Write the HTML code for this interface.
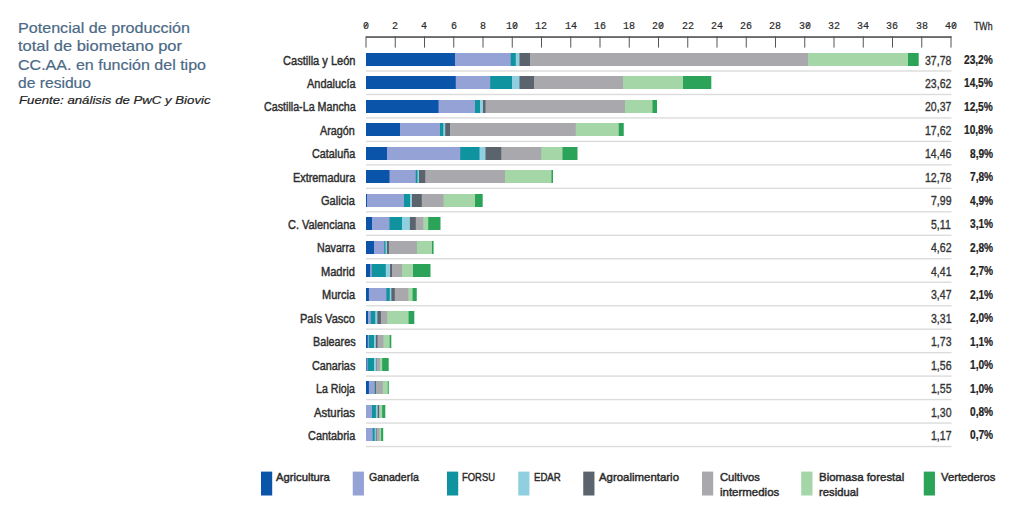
<!DOCTYPE html>
<html><head><meta charset="utf-8"><style>
html,body{margin:0;padding:0;background:#fff;}
body{width:1024px;height:508px;position:relative;overflow:hidden;font-family:"Liberation Sans",sans-serif;}
.a{position:absolute;}
.t{position:absolute;white-space:nowrap;line-height:1;transform-origin:0 0;}
.seg{position:absolute;height:13px;}
.sep{position:absolute;height:1px;background:#dedede;left:366px;width:585px;}
.tick{position:absolute;width:1px;height:11px;background:#444;top:37px;}
.sw{position:absolute;width:11px;height:24px;top:471.5px;}
</style></head><body>
<div class="t" style="left:18.3px;top:20px;font-size:15px;font-family:'Liberation Sans',sans-serif;color:#4b6986;transform:scaleX(1.0743);-webkit-text-stroke:0.2px #4b6986;">Potencial de producción</div><div class="t" style="left:18.3px;top:38.45px;font-size:15px;font-family:'Liberation Sans',sans-serif;color:#4b6986;transform:scaleX(1.0987);-webkit-text-stroke:0.2px #4b6986;">total de biometano por</div><div class="t" style="left:18.3px;top:56.85px;font-size:15px;font-family:'Liberation Sans',sans-serif;color:#4b6986;transform:scaleX(1.0686);-webkit-text-stroke:0.2px #4b6986;">CC.AA. en función del tipo</div><div class="t" style="left:18.3px;top:74.55px;font-size:15px;font-family:'Liberation Sans',sans-serif;color:#4b6986;transform:scaleX(1.0421);-webkit-text-stroke:0.2px #4b6986;">de residuo</div><div class="t" style="left:18.5px;top:95.42px;font-size:11.5px;font-family:'Liberation Sans',sans-serif;color:#222;font-style:italic;transform:scaleX(1.1480);-webkit-text-stroke:0.2px #222;">Fuente: análisis de PwC y Biovic</div><svg class="a" style="left:0;top:0" width="1024" height="508" viewBox="0 0 1024 508"><rect x="366" y="36.3" width="585.5" height="1.5" fill="#444"/><rect x="365.5" y="36.3" width="1" height="11.3" fill="#555"/><rect x="394.75" y="36.3" width="1" height="11.3" fill="#555"/><rect x="424" y="36.3" width="1" height="11.3" fill="#555"/><rect x="453.25" y="36.3" width="1" height="11.3" fill="#555"/><rect x="482.5" y="36.3" width="1" height="11.3" fill="#555"/><rect x="511.75" y="36.3" width="1" height="11.3" fill="#555"/><rect x="541" y="36.3" width="1" height="11.3" fill="#555"/><rect x="570.25" y="36.3" width="1" height="11.3" fill="#555"/><rect x="599.5" y="36.3" width="1" height="11.3" fill="#555"/><rect x="628.75" y="36.3" width="1" height="11.3" fill="#555"/><rect x="658" y="36.3" width="1" height="11.3" fill="#555"/><rect x="687.25" y="36.3" width="1" height="11.3" fill="#555"/><rect x="716.5" y="36.3" width="1" height="11.3" fill="#555"/><rect x="745.75" y="36.3" width="1" height="11.3" fill="#555"/><rect x="775" y="36.3" width="1" height="11.3" fill="#555"/><rect x="804.25" y="36.3" width="1" height="11.3" fill="#555"/><rect x="833.5" y="36.3" width="1" height="11.3" fill="#555"/><rect x="862.75" y="36.3" width="1" height="11.3" fill="#555"/><rect x="892" y="36.3" width="1" height="11.3" fill="#555"/><rect x="921.25" y="36.3" width="1" height="11.3" fill="#555"/><rect x="950.5" y="36.3" width="1" height="11.3" fill="#555"/><rect x="366" y="53" width="90" height="13" fill="#0a55aa"/><rect x="455" y="53" width="56.75" height="13" fill="#94a2d6"/><rect x="510.75" y="53" width="6" height="13" fill="#0f939e"/><rect x="515.75" y="53" width="4.75" height="13" fill="#90cfe0"/><rect x="519.5" y="53" width="11.5" height="13" fill="#5b636c"/><rect x="530" y="53" width="279" height="13" fill="#a9a9ad"/><rect x="808" y="53" width="101" height="13" fill="#a5d6a7"/><rect x="908" y="53" width="10.7" height="13" fill="#2ba45a"/><rect x="366" y="70.3" width="585.5" height="1.4" fill="#dcdcdc"/><rect x="366" y="76" width="90.75" height="13" fill="#0a55aa"/><rect x="455.75" y="76" width="35.5" height="13" fill="#94a2d6"/><rect x="490.25" y="76" width="22.75" height="13" fill="#0f939e"/><rect x="512" y="76" width="8.5" height="13" fill="#90cfe0"/><rect x="519.5" y="76" width="15.5" height="13" fill="#5b636c"/><rect x="534" y="76" width="90" height="13" fill="#a9a9ad"/><rect x="623" y="76" width="61" height="13" fill="#a5d6a7"/><rect x="683" y="76" width="28.3" height="13" fill="#2ba45a"/><rect x="366" y="93.77" width="585.5" height="1.4" fill="#dcdcdc"/><rect x="366" y="100" width="73.5" height="13" fill="#0a55aa"/><rect x="438.5" y="100" width="37.5" height="13" fill="#94a2d6"/><rect x="475" y="100" width="6" height="13" fill="#0f939e"/><rect x="480" y="100" width="4" height="13" fill="#90cfe0"/><rect x="483" y="100" width="3.5" height="13" fill="#5b636c"/><rect x="485.5" y="100" width="140.5" height="13" fill="#a9a9ad"/><rect x="625" y="100" width="28.5" height="13" fill="#a5d6a7"/><rect x="652.5" y="100" width="4.5" height="13" fill="#2ba45a"/><rect x="366" y="117.24" width="585.5" height="1.4" fill="#dcdcdc"/><rect x="366" y="123" width="35" height="13" fill="#0a55aa"/><rect x="400" y="123" width="41" height="13" fill="#94a2d6"/><rect x="440" y="123" width="4.25" height="13" fill="#0f939e"/><rect x="443.25" y="123" width="3" height="13" fill="#90cfe0"/><rect x="445.25" y="123" width="5.75" height="13" fill="#5b636c"/><rect x="450" y="123" width="126.75" height="13" fill="#a9a9ad"/><rect x="575.75" y="123" width="44" height="13" fill="#a5d6a7"/><rect x="618.75" y="123" width="5" height="13" fill="#2ba45a"/><rect x="366" y="140.71" width="585.5" height="1.4" fill="#dcdcdc"/><rect x="366" y="147" width="22" height="13" fill="#0a55aa"/><rect x="387" y="147" width="74.25" height="13" fill="#94a2d6"/><rect x="460.25" y="147" width="20.25" height="13" fill="#0f939e"/><rect x="479.5" y="147" width="7" height="13" fill="#90cfe0"/><rect x="485.5" y="147" width="16.75" height="13" fill="#5b636c"/><rect x="501.25" y="147" width="41" height="13" fill="#a9a9ad"/><rect x="541.25" y="147" width="22.25" height="13" fill="#a5d6a7"/><rect x="562.5" y="147" width="15" height="13" fill="#2ba45a"/><rect x="366" y="164.18" width="585.5" height="1.4" fill="#dcdcdc"/><rect x="366" y="170" width="24.5" height="13" fill="#0a55aa"/><rect x="389.5" y="170" width="27.25" height="13" fill="#94a2d6"/><rect x="415.75" y="170" width="2.75" height="13" fill="#0f939e"/><rect x="417.5" y="170" width="2.5" height="13" fill="#90cfe0"/><rect x="419" y="170" width="7.25" height="13" fill="#5b636c"/><rect x="425.25" y="170" width="80.75" height="13" fill="#a9a9ad"/><rect x="505" y="170" width="47.5" height="13" fill="#a5d6a7"/><rect x="551.5" y="170" width="1.5" height="13" fill="#2ba45a"/><rect x="366" y="187.65" width="585.5" height="1.4" fill="#dcdcdc"/><rect x="366" y="194" width="2" height="13" fill="#0a55aa"/><rect x="367" y="194" width="38" height="13" fill="#94a2d6"/><rect x="404" y="194" width="7" height="13" fill="#0f939e"/><rect x="410" y="194" width="3" height="13" fill="#90cfe0"/><rect x="412" y="194" width="10.75" height="13" fill="#5b636c"/><rect x="421.75" y="194" width="22.75" height="13" fill="#a9a9ad"/><rect x="443.5" y="194" width="32.5" height="13" fill="#a5d6a7"/><rect x="475" y="194" width="7.7" height="13" fill="#2ba45a"/><rect x="366" y="211.12" width="585.5" height="1.4" fill="#dcdcdc"/><rect x="366" y="217" width="7" height="13" fill="#0a55aa"/><rect x="372" y="217" width="18.5" height="13" fill="#94a2d6"/><rect x="389.5" y="217" width="13.5" height="13" fill="#0f939e"/><rect x="402" y="217" width="8.9" height="13" fill="#90cfe0"/><rect x="409.9" y="217" width="6.85" height="13" fill="#5b636c"/><rect x="415.75" y="217" width="8.5" height="13" fill="#a9a9ad"/><rect x="423.25" y="217" width="6" height="13" fill="#a5d6a7"/><rect x="428.25" y="217" width="12.25" height="13" fill="#2ba45a"/><rect x="366" y="234.59" width="585.5" height="1.4" fill="#dcdcdc"/><rect x="366" y="241" width="9" height="13" fill="#0a55aa"/><rect x="374" y="241" width="11.25" height="13" fill="#94a2d6"/><rect x="384.25" y="241" width="2.25" height="13" fill="#0f939e"/><rect x="385.5" y="241" width="2.5" height="13" fill="#90cfe0"/><rect x="387" y="241" width="2.9" height="13" fill="#5b636c"/><rect x="388.9" y="241" width="29" height="13" fill="#a9a9ad"/><rect x="416.9" y="241" width="16.1" height="13" fill="#a5d6a7"/><rect x="432" y="241" width="1.6" height="13" fill="#2ba45a"/><rect x="366" y="258.06" width="585.5" height="1.4" fill="#dcdcdc"/><rect x="366" y="264" width="5.1" height="13" fill="#0a55aa"/><rect x="370.1" y="264" width="2.65" height="13" fill="#94a2d6"/><rect x="371.75" y="264" width="15" height="13" fill="#0f939e"/><rect x="385.75" y="264" width="5.35" height="13" fill="#90cfe0"/><rect x="390.1" y="264" width="2.9" height="13" fill="#5b636c"/><rect x="392" y="264" width="11" height="13" fill="#a9a9ad"/><rect x="402" y="264" width="12" height="13" fill="#a5d6a7"/><rect x="413" y="264" width="17.5" height="13" fill="#2ba45a"/><rect x="366" y="281.53" width="585.5" height="1.4" fill="#dcdcdc"/><rect x="366" y="288" width="3.9" height="13" fill="#0a55aa"/><rect x="368.9" y="288" width="18.5" height="13" fill="#94a2d6"/><rect x="386.4" y="288" width="4.35" height="13" fill="#0f939e"/><rect x="389.75" y="288" width="2.65" height="13" fill="#90cfe0"/><rect x="391.4" y="288" width="4.35" height="13" fill="#5b636c"/><rect x="394.75" y="288" width="14.5" height="13" fill="#a9a9ad"/><rect x="408.25" y="288" width="5.35" height="13" fill="#a5d6a7"/><rect x="412.6" y="288" width="4.15" height="13" fill="#2ba45a"/><rect x="366" y="305" width="585.5" height="1.4" fill="#dcdcdc"/><rect x="366" y="311" width="3" height="13" fill="#0a55aa"/><rect x="368" y="311" width="3.8" height="13" fill="#94a2d6"/><rect x="370.8" y="311" width="5.4" height="13" fill="#0f939e"/><rect x="375.2" y="311" width="3.2" height="13" fill="#90cfe0"/><rect x="377.4" y="311" width="4.5" height="13" fill="#5b636c"/><rect x="380.9" y="311" width="7.3" height="13" fill="#a9a9ad"/><rect x="387.2" y="311" width="22.4" height="13" fill="#a5d6a7"/><rect x="408.6" y="311" width="5.7" height="13" fill="#2ba45a"/><rect x="366" y="328.47" width="585.5" height="1.4" fill="#dcdcdc"/><rect x="366" y="335" width="2.7" height="13" fill="#0a55aa"/><rect x="367.7" y="335" width="2.2" height="13" fill="#94a2d6"/><rect x="368.9" y="335" width="6.1" height="13" fill="#0f939e"/><rect x="374" y="335" width="2.9" height="13" fill="#90cfe0"/><rect x="375.9" y="335" width="2.6" height="13" fill="#5b636c"/><rect x="377.5" y="335" width="6.9" height="13" fill="#a9a9ad"/><rect x="383.4" y="335" width="7.3" height="13" fill="#a5d6a7"/><rect x="389.7" y="335" width="1.6" height="13" fill="#2ba45a"/><rect x="366" y="351.94" width="585.5" height="1.4" fill="#dcdcdc"/><rect x="366" y="358" width="1.5" height="13" fill="#0a55aa"/><rect x="366.5" y="358" width="2.2" height="13" fill="#94a2d6"/><rect x="367.7" y="358" width="7.3" height="13" fill="#0f939e"/><rect x="374" y="358" width="3.5" height="13" fill="#90cfe0"/><rect x="376.5" y="358" width="1.5" height="13" fill="#5b636c"/><rect x="377" y="358" width="4" height="13" fill="#a9a9ad"/><rect x="380" y="358" width="3.2" height="13" fill="#a5d6a7"/><rect x="382.2" y="358" width="6.5" height="13" fill="#2ba45a"/><rect x="366" y="375.41" width="585.5" height="1.4" fill="#dcdcdc"/><rect x="366" y="381" width="3.9" height="13" fill="#0a55aa"/><rect x="368.9" y="381" width="6.1" height="13" fill="#94a2d6"/><rect x="374" y="381" width="1.5" height="13" fill="#0f939e"/><rect x="374.5" y="381" width="1.5" height="13" fill="#90cfe0"/><rect x="375" y="381" width="1.9" height="13" fill="#5b636c"/><rect x="375.9" y="381" width="7.9" height="13" fill="#a9a9ad"/><rect x="382.8" y="381" width="5.9" height="13" fill="#a5d6a7"/><rect x="387.8" y="381" width="0.9" height="13" fill="#2ba45a"/><rect x="366" y="398.88" width="585.5" height="1.4" fill="#dcdcdc"/><rect x="366" y="405" width="7" height="13" fill="#94a2d6"/><rect x="372" y="405" width="4.9" height="13" fill="#0f939e"/><rect x="375.9" y="405" width="2.8" height="13" fill="#90cfe0"/><rect x="377.7" y="405" width="2.3" height="13" fill="#5b636c"/><rect x="379" y="405" width="1.5" height="13" fill="#a9a9ad"/><rect x="379.5" y="405" width="3.7" height="13" fill="#a5d6a7"/><rect x="382.2" y="405" width="3.1" height="13" fill="#2ba45a"/><rect x="366" y="422.35" width="585.5" height="1.4" fill="#dcdcdc"/><rect x="366" y="428" width="7.7" height="13" fill="#94a2d6"/><rect x="372.7" y="428" width="2.9" height="13" fill="#0f939e"/><rect x="374.6" y="428" width="2.3" height="13" fill="#90cfe0"/><rect x="375.9" y="428" width="1.6" height="13" fill="#5b636c"/><rect x="376.5" y="428" width="4.1" height="13" fill="#a9a9ad"/><rect x="379.6" y="428" width="2.5" height="13" fill="#a5d6a7"/><rect x="381.1" y="428" width="2.1" height="13" fill="#2ba45a"/><rect x="366" y="445.82" width="585.5" height="1.4" fill="#dcdcdc"/><rect x="261" y="471.6" width="11.2" height="23.9" fill="#0a55aa"/><rect x="352.75" y="471.6" width="11.2" height="23.9" fill="#94a2d6"/><rect x="447" y="471.6" width="11.2" height="23.9" fill="#0f939e"/><rect x="518.25" y="471.6" width="11.2" height="23.9" fill="#90cfe0"/><rect x="583.25" y="471.6" width="11.2" height="23.9" fill="#5b636c"/><rect x="702" y="471.6" width="11.2" height="23.9" fill="#a9a9ad"/><rect x="801.25" y="471.6" width="11.2" height="23.9" fill="#a5d6a7"/><rect x="923.75" y="471.6" width="11.2" height="23.9" fill="#2ba45a"/><line x1="367.5" y1="23.02" x2="364.5" y2="27.82" stroke="#2a2a2a" stroke-width="0.9"/><line x1="516.76" y1="23.02" x2="513.76" y2="27.82" stroke="#2a2a2a" stroke-width="0.9"/><line x1="663.01" y1="23.02" x2="660.01" y2="27.82" stroke="#2a2a2a" stroke-width="0.9"/><line x1="809.26" y1="23.02" x2="806.26" y2="27.82" stroke="#2a2a2a" stroke-width="0.9"/><line x1="955.51" y1="23.02" x2="952.51" y2="27.82" stroke="#2a2a2a" stroke-width="0.9"/></svg><div class="t" style="left:362.99px;top:20.52px;font-size:11.4px;font-family:'Liberation Mono',monospace;color:#2a2a2a;transform:scaleX(0.8800);-webkit-text-stroke:0.2px #2a2a2a;">0</div><div class="t" style="left:392.24px;top:20.52px;font-size:11.4px;font-family:'Liberation Mono',monospace;color:#2a2a2a;transform:scaleX(0.8800);-webkit-text-stroke:0.2px #2a2a2a;">2</div><div class="t" style="left:421.49px;top:20.52px;font-size:11.4px;font-family:'Liberation Mono',monospace;color:#2a2a2a;transform:scaleX(0.8800);-webkit-text-stroke:0.2px #2a2a2a;">4</div><div class="t" style="left:450.74px;top:20.52px;font-size:11.4px;font-family:'Liberation Mono',monospace;color:#2a2a2a;transform:scaleX(0.8800);-webkit-text-stroke:0.2px #2a2a2a;">6</div><div class="t" style="left:479.99px;top:20.52px;font-size:11.4px;font-family:'Liberation Mono',monospace;color:#2a2a2a;transform:scaleX(0.8800);-webkit-text-stroke:0.2px #2a2a2a;">8</div><div class="t" style="left:506.23px;top:20.52px;font-size:11.4px;font-family:'Liberation Mono',monospace;color:#2a2a2a;transform:scaleX(0.8800);-webkit-text-stroke:0.2px #2a2a2a;">10</div><div class="t" style="left:535.48px;top:20.52px;font-size:11.4px;font-family:'Liberation Mono',monospace;color:#2a2a2a;transform:scaleX(0.8800);-webkit-text-stroke:0.2px #2a2a2a;">12</div><div class="t" style="left:564.73px;top:20.52px;font-size:11.4px;font-family:'Liberation Mono',monospace;color:#2a2a2a;transform:scaleX(0.8800);-webkit-text-stroke:0.2px #2a2a2a;">14</div><div class="t" style="left:593.98px;top:20.52px;font-size:11.4px;font-family:'Liberation Mono',monospace;color:#2a2a2a;transform:scaleX(0.8800);-webkit-text-stroke:0.2px #2a2a2a;">16</div><div class="t" style="left:623.23px;top:20.52px;font-size:11.4px;font-family:'Liberation Mono',monospace;color:#2a2a2a;transform:scaleX(0.8800);-webkit-text-stroke:0.2px #2a2a2a;">18</div><div class="t" style="left:652.48px;top:20.52px;font-size:11.4px;font-family:'Liberation Mono',monospace;color:#2a2a2a;transform:scaleX(0.8800);-webkit-text-stroke:0.2px #2a2a2a;">20</div><div class="t" style="left:681.73px;top:20.52px;font-size:11.4px;font-family:'Liberation Mono',monospace;color:#2a2a2a;transform:scaleX(0.8800);-webkit-text-stroke:0.2px #2a2a2a;">22</div><div class="t" style="left:710.98px;top:20.52px;font-size:11.4px;font-family:'Liberation Mono',monospace;color:#2a2a2a;transform:scaleX(0.8800);-webkit-text-stroke:0.2px #2a2a2a;">24</div><div class="t" style="left:740.23px;top:20.52px;font-size:11.4px;font-family:'Liberation Mono',monospace;color:#2a2a2a;transform:scaleX(0.8800);-webkit-text-stroke:0.2px #2a2a2a;">26</div><div class="t" style="left:769.48px;top:20.52px;font-size:11.4px;font-family:'Liberation Mono',monospace;color:#2a2a2a;transform:scaleX(0.8800);-webkit-text-stroke:0.2px #2a2a2a;">28</div><div class="t" style="left:798.73px;top:20.52px;font-size:11.4px;font-family:'Liberation Mono',monospace;color:#2a2a2a;transform:scaleX(0.8800);-webkit-text-stroke:0.2px #2a2a2a;">30</div><div class="t" style="left:827.98px;top:20.52px;font-size:11.4px;font-family:'Liberation Mono',monospace;color:#2a2a2a;transform:scaleX(0.8800);-webkit-text-stroke:0.2px #2a2a2a;">32</div><div class="t" style="left:857.23px;top:20.52px;font-size:11.4px;font-family:'Liberation Mono',monospace;color:#2a2a2a;transform:scaleX(0.8800);-webkit-text-stroke:0.2px #2a2a2a;">34</div><div class="t" style="left:886.48px;top:20.52px;font-size:11.4px;font-family:'Liberation Mono',monospace;color:#2a2a2a;transform:scaleX(0.8800);-webkit-text-stroke:0.2px #2a2a2a;">36</div><div class="t" style="left:915.73px;top:20.52px;font-size:11.4px;font-family:'Liberation Mono',monospace;color:#2a2a2a;transform:scaleX(0.8800);-webkit-text-stroke:0.2px #2a2a2a;">38</div><div class="t" style="left:944.98px;top:20.52px;font-size:11.4px;font-family:'Liberation Mono',monospace;color:#2a2a2a;transform:scaleX(0.8800);-webkit-text-stroke:0.2px #2a2a2a;">40</div><div class="t" style="left:973.5px;top:20.52px;font-size:11.5px;font-family:'Liberation Sans',sans-serif;color:#2a2a2a;transform:scaleX(0.7621);-webkit-text-stroke:0.3px #2a2a2a;">TWh</div><div class="t" style="left:282.7px;top:53.55px;font-size:13px;font-family:'Liberation Sans',sans-serif;color:#2e2e2e;transform:scaleX(0.8503);-webkit-text-stroke:0.45px #2e2e2e;">Castilla y León</div><div class="t" style="left:924.8px;top:53.55px;font-size:13px;font-family:'Liberation Sans',sans-serif;color:#333;transform:scaleX(0.8117);-webkit-text-stroke:0.35px #333;">37,78</div><div class="t" style="left:964px;top:53.97px;font-size:12.5px;font-family:'Liberation Sans',sans-serif;color:#222;font-weight:bold;transform:scaleX(0.8127);-webkit-text-stroke:0.2px #222;">23,2%</div><div class="t" style="left:306.5px;top:77.02px;font-size:13px;font-family:'Liberation Sans',sans-serif;color:#2e2e2e;transform:scaleX(0.8420);-webkit-text-stroke:0.45px #2e2e2e;">Andalucía</div><div class="t" style="left:924.8px;top:77.02px;font-size:13px;font-family:'Liberation Sans',sans-serif;color:#333;transform:scaleX(0.8117);-webkit-text-stroke:0.35px #333;">23,62</div><div class="t" style="left:964px;top:77.45px;font-size:12.5px;font-family:'Liberation Sans',sans-serif;color:#222;font-weight:bold;transform:scaleX(0.8127);-webkit-text-stroke:0.2px #222;">14,5%</div><div class="t" style="left:263.5px;top:100.49px;font-size:13px;font-family:'Liberation Sans',sans-serif;color:#2e2e2e;transform:scaleX(0.8240);-webkit-text-stroke:0.45px #2e2e2e;">Castilla-La Mancha</div><div class="t" style="left:924.8px;top:100.49px;font-size:13px;font-family:'Liberation Sans',sans-serif;color:#333;transform:scaleX(0.8117);-webkit-text-stroke:0.35px #333;">20,37</div><div class="t" style="left:964px;top:100.92px;font-size:12.5px;font-family:'Liberation Sans',sans-serif;color:#222;font-weight:bold;transform:scaleX(0.8127);-webkit-text-stroke:0.2px #222;">12,5%</div><div class="t" style="left:320.4px;top:123.96px;font-size:13px;font-family:'Liberation Sans',sans-serif;color:#2e2e2e;transform:scaleX(0.8301);-webkit-text-stroke:0.45px #2e2e2e;">Aragón</div><div class="t" style="left:924.8px;top:123.96px;font-size:13px;font-family:'Liberation Sans',sans-serif;color:#333;transform:scaleX(0.8117);-webkit-text-stroke:0.35px #333;">17,62</div><div class="t" style="left:964px;top:124.38px;font-size:12.5px;font-family:'Liberation Sans',sans-serif;color:#222;font-weight:bold;transform:scaleX(0.8127);-webkit-text-stroke:0.2px #222;">10,8%</div><div class="t" style="left:311.9px;top:147.43px;font-size:13px;font-family:'Liberation Sans',sans-serif;color:#2e2e2e;transform:scaleX(0.8319);-webkit-text-stroke:0.45px #2e2e2e;">Cataluña</div><div class="t" style="left:924.8px;top:147.43px;font-size:13px;font-family:'Liberation Sans',sans-serif;color:#333;transform:scaleX(0.8117);-webkit-text-stroke:0.35px #333;">14,46</div><div class="t" style="left:969.65px;top:147.85px;font-size:12.5px;font-family:'Liberation Sans',sans-serif;color:#222;font-weight:bold;transform:scaleX(0.8127);-webkit-text-stroke:0.2px #222;">8,9%</div><div class="t" style="left:293px;top:170.9px;font-size:13px;font-family:'Liberation Sans',sans-serif;color:#2e2e2e;transform:scaleX(0.8356);-webkit-text-stroke:0.45px #2e2e2e;">Extremadura</div><div class="t" style="left:924.8px;top:170.9px;font-size:13px;font-family:'Liberation Sans',sans-serif;color:#333;transform:scaleX(0.8117);-webkit-text-stroke:0.35px #333;">12,78</div><div class="t" style="left:969.65px;top:171.32px;font-size:12.5px;font-family:'Liberation Sans',sans-serif;color:#222;font-weight:bold;transform:scaleX(0.8127);-webkit-text-stroke:0.2px #222;">7,8%</div><div class="t" style="left:321.4px;top:194.37px;font-size:13px;font-family:'Liberation Sans',sans-serif;color:#2e2e2e;transform:scaleX(0.8502);-webkit-text-stroke:0.45px #2e2e2e;">Galicia</div><div class="t" style="left:930.67px;top:194.37px;font-size:13px;font-family:'Liberation Sans',sans-serif;color:#333;transform:scaleX(0.8117);-webkit-text-stroke:0.35px #333;">7,99</div><div class="t" style="left:969.65px;top:194.79px;font-size:12.5px;font-family:'Liberation Sans',sans-serif;color:#222;font-weight:bold;transform:scaleX(0.8127);-webkit-text-stroke:0.2px #222;">4,9%</div><div class="t" style="left:287.8px;top:217.84px;font-size:13px;font-family:'Liberation Sans',sans-serif;color:#2e2e2e;transform:scaleX(0.8426);-webkit-text-stroke:0.45px #2e2e2e;">C. Valenciana</div><div class="t" style="left:931.45px;top:217.84px;font-size:13px;font-family:'Liberation Sans',sans-serif;color:#333;transform:scaleX(0.8117);-webkit-text-stroke:0.35px #333;">5,11</div><div class="t" style="left:969.65px;top:218.26px;font-size:12.5px;font-family:'Liberation Sans',sans-serif;color:#222;font-weight:bold;transform:scaleX(0.8127);-webkit-text-stroke:0.2px #222;">3,1%</div><div class="t" style="left:317.3px;top:241.31px;font-size:13px;font-family:'Liberation Sans',sans-serif;color:#2e2e2e;transform:scaleX(0.8194);-webkit-text-stroke:0.45px #2e2e2e;">Navarra</div><div class="t" style="left:930.67px;top:241.31px;font-size:13px;font-family:'Liberation Sans',sans-serif;color:#333;transform:scaleX(0.8117);-webkit-text-stroke:0.35px #333;">4,62</div><div class="t" style="left:969.65px;top:241.73px;font-size:12.5px;font-family:'Liberation Sans',sans-serif;color:#222;font-weight:bold;transform:scaleX(0.8127);-webkit-text-stroke:0.2px #222;">2,8%</div><div class="t" style="left:321.4px;top:264.78px;font-size:13px;font-family:'Liberation Sans',sans-serif;color:#2e2e2e;transform:scaleX(0.8505);-webkit-text-stroke:0.45px #2e2e2e;">Madrid</div><div class="t" style="left:930.67px;top:264.78px;font-size:13px;font-family:'Liberation Sans',sans-serif;color:#333;transform:scaleX(0.8117);-webkit-text-stroke:0.35px #333;">4,41</div><div class="t" style="left:969.65px;top:265.2px;font-size:12.5px;font-family:'Liberation Sans',sans-serif;color:#222;font-weight:bold;transform:scaleX(0.8127);-webkit-text-stroke:0.2px #222;">2,7%</div><div class="t" style="left:322.1px;top:288.25px;font-size:13px;font-family:'Liberation Sans',sans-serif;color:#2e2e2e;transform:scaleX(0.8484);-webkit-text-stroke:0.45px #2e2e2e;">Murcia</div><div class="t" style="left:930.67px;top:288.25px;font-size:13px;font-family:'Liberation Sans',sans-serif;color:#333;transform:scaleX(0.8117);-webkit-text-stroke:0.35px #333;">3,47</div><div class="t" style="left:969.65px;top:288.67px;font-size:12.5px;font-family:'Liberation Sans',sans-serif;color:#222;font-weight:bold;transform:scaleX(0.8127);-webkit-text-stroke:0.2px #222;">2,1%</div><div class="t" style="left:300.3px;top:311.72px;font-size:13px;font-family:'Liberation Sans',sans-serif;color:#2e2e2e;transform:scaleX(0.8473);-webkit-text-stroke:0.45px #2e2e2e;">País Vasco</div><div class="t" style="left:930.67px;top:311.72px;font-size:13px;font-family:'Liberation Sans',sans-serif;color:#333;transform:scaleX(0.8117);-webkit-text-stroke:0.35px #333;">3,31</div><div class="t" style="left:969.65px;top:312.14px;font-size:12.5px;font-family:'Liberation Sans',sans-serif;color:#222;font-weight:bold;transform:scaleX(0.8127);-webkit-text-stroke:0.2px #222;">2,0%</div><div class="t" style="left:312.6px;top:335.19px;font-size:13px;font-family:'Liberation Sans',sans-serif;color:#2e2e2e;transform:scaleX(0.8302);-webkit-text-stroke:0.45px #2e2e2e;">Baleares</div><div class="t" style="left:930.67px;top:335.19px;font-size:13px;font-family:'Liberation Sans',sans-serif;color:#333;transform:scaleX(0.8117);-webkit-text-stroke:0.35px #333;">1,73</div><div class="t" style="left:969.65px;top:335.61px;font-size:12.5px;font-family:'Liberation Sans',sans-serif;color:#222;font-weight:bold;transform:scaleX(0.8127);-webkit-text-stroke:0.2px #222;">1,1%</div><div class="t" style="left:311.9px;top:358.66px;font-size:13px;font-family:'Liberation Sans',sans-serif;color:#2e2e2e;transform:scaleX(0.8323);-webkit-text-stroke:0.45px #2e2e2e;">Canarias</div><div class="t" style="left:930.67px;top:358.66px;font-size:13px;font-family:'Liberation Sans',sans-serif;color:#333;transform:scaleX(0.8117);-webkit-text-stroke:0.35px #333;">1,56</div><div class="t" style="left:969.65px;top:359.08px;font-size:12.5px;font-family:'Liberation Sans',sans-serif;color:#222;font-weight:bold;transform:scaleX(0.8127);-webkit-text-stroke:0.2px #222;">1,0%</div><div class="t" style="left:316.2px;top:382.13px;font-size:13px;font-family:'Liberation Sans',sans-serif;color:#2e2e2e;transform:scaleX(0.8174);-webkit-text-stroke:0.45px #2e2e2e;">La Rioja</div><div class="t" style="left:930.67px;top:382.13px;font-size:13px;font-family:'Liberation Sans',sans-serif;color:#333;transform:scaleX(0.8117);-webkit-text-stroke:0.35px #333;">1,55</div><div class="t" style="left:969.65px;top:382.55px;font-size:12.5px;font-family:'Liberation Sans',sans-serif;color:#222;font-weight:bold;transform:scaleX(0.8127);-webkit-text-stroke:0.2px #222;">1,0%</div><div class="t" style="left:314.3px;top:405.6px;font-size:13px;font-family:'Liberation Sans',sans-serif;color:#2e2e2e;transform:scaleX(0.8710);-webkit-text-stroke:0.45px #2e2e2e;">Asturias</div><div class="t" style="left:930.67px;top:405.6px;font-size:13px;font-family:'Liberation Sans',sans-serif;color:#333;transform:scaleX(0.8117);-webkit-text-stroke:0.35px #333;">1,30</div><div class="t" style="left:969.65px;top:406.02px;font-size:12.5px;font-family:'Liberation Sans',sans-serif;color:#222;font-weight:bold;transform:scaleX(0.8127);-webkit-text-stroke:0.2px #222;">0,8%</div><div class="t" style="left:307.9px;top:429.07px;font-size:13px;font-family:'Liberation Sans',sans-serif;color:#2e2e2e;transform:scaleX(0.8389);-webkit-text-stroke:0.45px #2e2e2e;">Cantabria</div><div class="t" style="left:930.67px;top:429.07px;font-size:13px;font-family:'Liberation Sans',sans-serif;color:#333;transform:scaleX(0.8117);-webkit-text-stroke:0.35px #333;">1,17</div><div class="t" style="left:969.65px;top:429.49px;font-size:12.5px;font-family:'Liberation Sans',sans-serif;color:#222;font-weight:bold;transform:scaleX(0.8127);-webkit-text-stroke:0.2px #222;">0,7%</div><div class="t" style="left:275.6px;top:471.57px;font-size:11.8px;font-family:'Liberation Sans',sans-serif;color:#2a2a2a;transform:scaleX(0.9536);-webkit-text-stroke:0.45px #2a2a2a;">Agricultura</div><div class="t" style="left:368.75px;top:471.57px;font-size:11.8px;font-family:'Liberation Sans',sans-serif;color:#2a2a2a;transform:scaleX(0.8966);-webkit-text-stroke:0.45px #2a2a2a;">Ganadería</div><div class="t" style="left:462px;top:471.57px;font-size:11.8px;font-family:'Liberation Sans',sans-serif;color:#2a2a2a;transform:scaleX(0.7990);-webkit-text-stroke:0.45px #2a2a2a;">FORSU</div><div class="t" style="left:533.75px;top:471.57px;font-size:11.8px;font-family:'Liberation Sans',sans-serif;color:#2a2a2a;transform:scaleX(0.8160);-webkit-text-stroke:0.45px #2a2a2a;">EDAR</div><div class="t" style="left:598.75px;top:471.57px;font-size:11.8px;font-family:'Liberation Sans',sans-serif;color:#2a2a2a;transform:scaleX(0.9681);-webkit-text-stroke:0.45px #2a2a2a;">Agroalimentario</div><div class="t" style="left:719.5px;top:471.57px;font-size:11.8px;font-family:'Liberation Sans',sans-serif;color:#2a2a2a;transform:scaleX(0.9530);-webkit-text-stroke:0.45px #2a2a2a;">Cultivos</div><div class="t" style="left:719.5px;top:487.37px;font-size:11.8px;font-family:'Liberation Sans',sans-serif;color:#2a2a2a;transform:scaleX(0.9714);-webkit-text-stroke:0.45px #2a2a2a;">intermedios</div><div class="t" style="left:818.6px;top:471.57px;font-size:11.8px;font-family:'Liberation Sans',sans-serif;color:#2a2a2a;transform:scaleX(0.9694);-webkit-text-stroke:0.45px #2a2a2a;">Biomasa forestal</div><div class="t" style="left:818.6px;top:487.37px;font-size:11.8px;font-family:'Liberation Sans',sans-serif;color:#2a2a2a;transform:scaleX(0.9559);-webkit-text-stroke:0.45px #2a2a2a;">residual</div><div class="t" style="left:940.8px;top:471.57px;font-size:11.8px;font-family:'Liberation Sans',sans-serif;color:#2a2a2a;transform:scaleX(0.9533);-webkit-text-stroke:0.45px #2a2a2a;">Vertederos</div></body></html>
